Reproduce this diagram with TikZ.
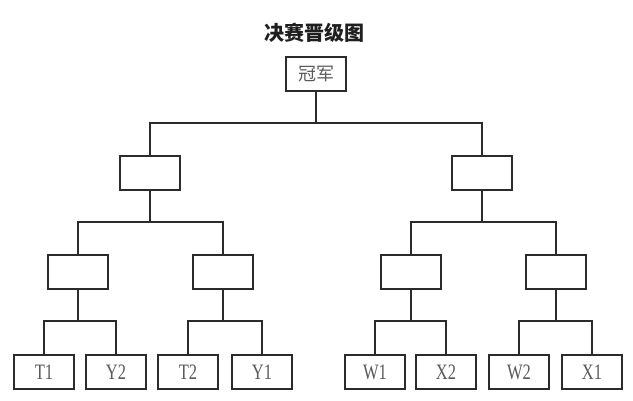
\documentclass[tikz,border=0pt]{standalone}
\usepackage{fontspec}
\setmainfont{Liberation Serif}
\newfontfamily\cjk{Noto Sans CJK SC}
\newfontfamily\teamfont[FakeStretch=0.75]{Liberation Serif}
\definecolor{lineblack}{HTML}{2B2B2B}
\definecolor{textgray}{HTML}{5A5A5A}

\begin{document}
\begin{tikzpicture}[x=1pt,y=-1pt,
  slot/.style={draw=lineblack,line width=2pt,minimum width=60pt,
    minimum height=34pt,inner sep=0pt,text=textgray,
    font=\teamfont\fontsize{22}{22}\selectfont},
  link/.style={draw=lineblack,line width=2pt}]

  % ---- Canvas ------------------------------------------------
  \useasboundingbox[fill=white] (0,0) rectangle (633,401);

  % ---- Title and final -----------------------------------------
  \node[font=\cjk\bfseries\fontsize{20}{20}\selectfont,text=black!88]
    (title) at (314,33) {决赛晋级图};
  \node[slot,font=\cjk\fontsize{18}{18}\selectfont] (champ) at (316,74) {冠军};

  % ---- Semi finals ---------------------------------------------
  \node[slot] (semiL) at (150,173) {};
  \node[slot] (semiR) at (482,173) {};

  % ---- Quarter finals ------------------------------------------
  \node[slot] (qfA) at (78,272)  {};
  \node[slot] (qfB) at (223,272) {};
  \node[slot] (qfC) at (411,272) {};
  \node[slot] (qfD) at (556,272) {};

  % ---- Teams ---------------------------------------------------
  \node[slot] (T1) at (44,372)  {T1};
  \node[slot] (Y2) at (116,372) {Y2};
  \node[slot] (T2) at (188,372) {T2};
  \node[slot] (Y1) at (262,372) {Y1};
  \node[slot] (W1) at (375,372) {W1};
  \node[slot] (X2) at (446,372) {X2};
  \node[slot] (W2) at (519,372) {W2};
  \node[slot] (X1) at (592,372) {X1};

  % ---- Bracket lines -------------------------------------------
  \coordinate (jTop) at (316,123);
  \draw[link] (champ) -- (jTop);
  \draw[link] (semiL) |- (jTop) -| (semiR);

  \coordinate (jL) at (150,222);
  \coordinate (jR) at (482,222);
  \draw[link] (semiL) -- (jL);
  \draw[link] (qfA) |- (jL) -| (qfB);
  \draw[link] (semiR) -- (jR);
  \draw[link] (qfC) |- (jR) -| (qfD);

  \coordinate (jA) at (78,321);
  \coordinate (jB) at (223,321);
  \coordinate (jC) at (411,321);
  \coordinate (jD) at (556,321);
  \draw[link] (qfA) -- (jA);
  \draw[link] (T1) |- (jA) -| (Y2);
  \draw[link] (qfB) -- (jB);
  \draw[link] (T2) |- (jB) -| (Y1);
  \draw[link] (qfC) -- (jC);
  \draw[link] (W1) |- (jC) -| (X2);
  \draw[link] (qfD) -- (jD);
  \draw[link] (W2) |- (jD) -| (X1);

\end{tikzpicture}
\end{document}
